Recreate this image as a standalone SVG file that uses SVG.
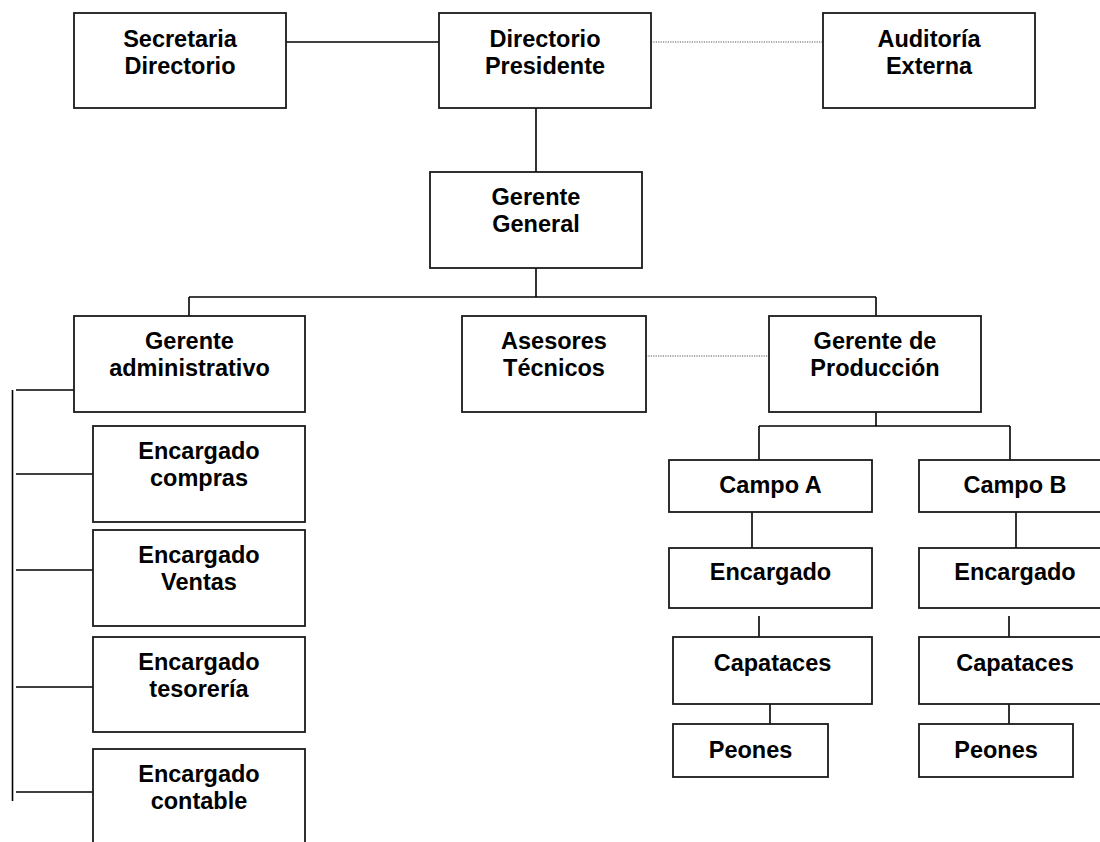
<svg xmlns="http://www.w3.org/2000/svg" width="1100" height="842" viewBox="0 0 1100 842">
<style>
.box{fill:#fff;stroke:#1a1a1a;stroke-width:1.8}
.t{font-family:"Liberation Sans",Arial,sans-serif;font-weight:bold;font-size:23.5px;fill:#000;text-anchor:middle}
.ln{stroke:#000;stroke-width:1.6;fill:none}
.dot{stroke:#555;stroke-width:1.2;stroke-dasharray:1.2 1.2;fill:none}
</style>
<rect width="1100" height="842" fill="#fff"/>
<g id="connectors">
<line class="ln" x1="286" y1="42" x2="439" y2="42"/>
<line class="dot" x1="651" y1="42" x2="823" y2="42"/>
<line class="ln" x1="536" y1="108" x2="536" y2="178"/>
<line class="ln" x1="536" y1="268" x2="536" y2="297"/>
<line class="ln" x1="189" y1="297" x2="876" y2="297"/>
<line class="ln" x1="189" y1="297" x2="189" y2="316"/>
<line class="ln" x1="876" y1="297" x2="876" y2="316"/>
<line class="dot" x1="646" y1="356" x2="769" y2="356"/>
<line class="ln" x1="16" y1="390" x2="74" y2="390"/>
<line class="ln" x1="12.5" y1="390" x2="12.5" y2="801"/>
<line class="ln" x1="16" y1="474" x2="93" y2="474"/>
<line class="ln" x1="16" y1="570" x2="93" y2="570"/>
<line class="ln" x1="16" y1="687" x2="93" y2="687"/>
<line class="ln" x1="16" y1="792" x2="93" y2="792"/>
<line class="ln" x1="876" y1="403" x2="876" y2="426"/>
<line class="ln" x1="759" y1="426" x2="1010" y2="426"/>
<line class="ln" x1="759" y1="426" x2="759" y2="464"/>
<line class="ln" x1="1010" y1="426" x2="1010" y2="464"/>
<line class="ln" x1="752" y1="512" x2="752" y2="551"/>
<line class="ln" x1="1016" y1="512" x2="1016" y2="551"/>
<line class="ln" x1="759" y1="616" x2="759" y2="637"/>
<line class="ln" x1="1009" y1="616" x2="1009" y2="637"/>
<line class="ln" x1="770" y1="704" x2="770" y2="724"/>
<line class="ln" x1="1009" y1="704" x2="1009" y2="724"/>
</g>
<g id="secretaria"><rect class="box" x="74" y="13" width="212" height="95"/><text class="t" x="180" y="47">Secretaria</text><text class="t" x="180" y="74">Directorio</text></g>
<g id="directorio"><rect class="box" x="439" y="13" width="212" height="95"/><text class="t" x="545" y="47">Directorio</text><text class="t" x="545" y="74">Presidente</text></g>
<g id="auditoria"><rect class="box" x="823" y="13" width="212" height="95"/><text class="t" x="929" y="47">Auditoría</text><text class="t" x="929" y="74">Externa</text></g>
<g id="gerente-general"><rect class="box" x="430" y="172" width="212" height="96"/><text class="t" x="536" y="205">Gerente</text><text class="t" x="536" y="232">General</text></g>
<g id="gerente-admin"><rect class="box" x="74" y="316" width="231" height="96"/><text class="t" x="189.5" y="349">Gerente</text><text class="t" x="189.5" y="376">administrativo</text></g>
<g id="asesores"><rect class="box" x="462" y="316" width="184" height="96"/><text class="t" x="554" y="349">Asesores</text><text class="t" x="554" y="376">Técnicos</text></g>
<g id="gerente-produccion"><rect class="box" x="769" y="316" width="212" height="96"/><text class="t" x="875" y="349">Gerente de</text><text class="t" x="875" y="376">Producción</text></g>
<g id="enc-compras"><rect class="box" x="93" y="426" width="212" height="96"/><text class="t" x="199" y="459">Encargado</text><text class="t" x="199" y="486">compras</text></g>
<g id="enc-ventas"><rect class="box" x="93" y="530" width="212" height="96"/><text class="t" x="199" y="563">Encargado</text><text class="t" x="199" y="590">Ventas</text></g>
<g id="enc-tesoreria"><rect class="box" x="93" y="637" width="212" height="95"/><text class="t" x="199" y="670">Encargado</text><text class="t" x="199" y="697">tesorería</text></g>
<g id="enc-contable"><rect class="box" x="93" y="749" width="212" height="110"/><text class="t" x="199" y="782">Encargado</text><text class="t" x="199" y="809">contable</text></g>
<g id="campo-a"><rect class="box" x="669" y="460" width="203" height="52"/><text class="t" x="770.5" y="493">Campo A</text></g>
<g id="campo-b"><rect class="box" x="919" y="460" width="192" height="52"/><text class="t" x="1015" y="493">Campo B</text></g>
<g id="encargado-a"><rect class="box" x="669" y="548" width="203" height="60"/><text class="t" x="770.5" y="580">Encargado</text></g>
<g id="encargado-b"><rect class="box" x="919" y="548" width="192" height="60"/><text class="t" x="1015" y="580">Encargado</text></g>
<g id="capataces-a"><rect class="box" x="673" y="637" width="199" height="67"/><text class="t" x="772.5" y="671">Capataces</text></g>
<g id="capataces-b"><rect class="box" x="919" y="637" width="192" height="67"/><text class="t" x="1015" y="671">Capataces</text></g>
<g id="peones-a"><rect class="box" x="673" y="724" width="155" height="53"/><text class="t" x="750.5" y="758">Peones</text></g>
<g id="peones-b"><rect class="box" x="919" y="724" width="154" height="53"/><text class="t" x="996" y="758">Peones</text></g>
</svg>
